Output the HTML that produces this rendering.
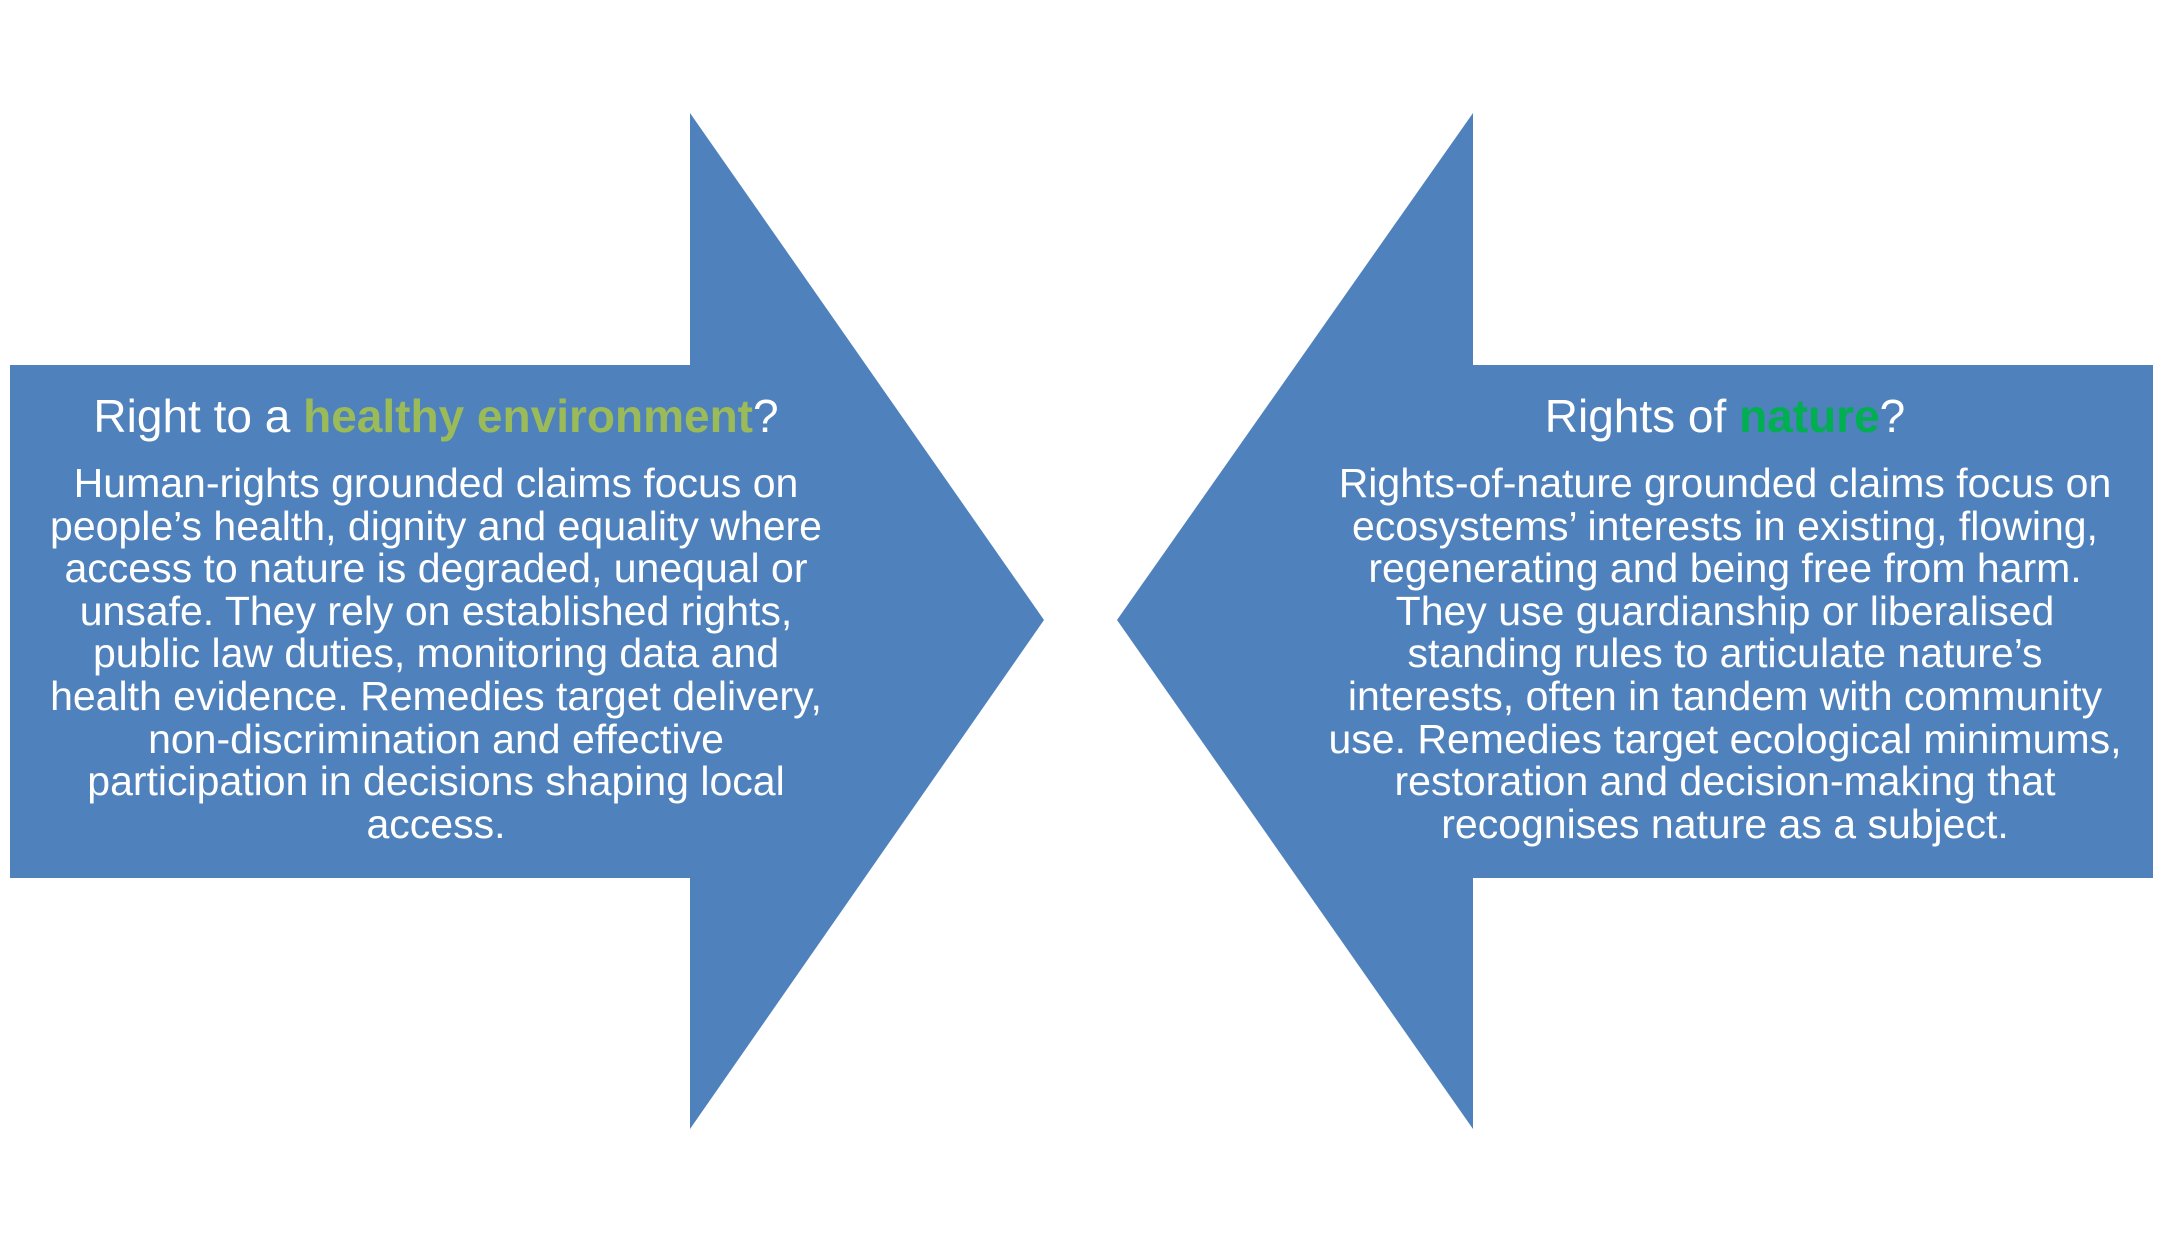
<!DOCTYPE html>
<html><head><meta charset="utf-8"><style>
html,body{margin:0;padding:0;background:#fff;}
body{width:2162px;height:1243px;position:relative;overflow:hidden;font-family:"Liberation Sans",Arial,sans-serif;}
.t{position:absolute;width:900px;text-align:center;color:#fff;white-space:nowrap;}
.h{font-size:46px;line-height:48px;}
.b{font-size:41px;line-height:42.6px;}
</style></head><body>
<svg width="2162" height="1243" style="position:absolute;left:0;top:0">
<polygon points="10,365 690,365 690,113 1044,620 690,1129 690,878 10,878" fill="#4f81bd"/>
<polygon points="2153,365 1473,365 1473,113 1117,620 1473,1129 1473,878 2153,878" fill="#4f81bd"/>
</svg>
<div class="t h" style="left:-14px;top:392px">Right to a <b style="color:#9bbb59">healthy environment</b>?</div>
<div class="t b" style="left:-14px;top:462px">Human-rights grounded claims focus on<br>people’s health, dignity and equality where<br>access to nature is degraded, unequal or<br>unsafe. They rely on established rights,<br>public law duties, monitoring data and<br>health evidence. Remedies target delivery,<br>non-discrimination and effective<br>participation in decisions shaping local<br>access.</div>
<div class="t h" style="left:1275px;top:392px">Rights of <b style="color:#00b050">nature</b>?</div>
<div class="t b" style="left:1275px;top:462px">Rights-of-nature grounded claims focus on<br>ecosystems’ interests in existing, flowing,<br>regenerating and being free from harm.<br>They use guardianship or liberalised<br>standing rules to articulate nature’s<br>interests, often in tandem with community<br>use. Remedies target ecological minimums,<br>restoration and decision-making that<br>recognises nature as a subject.</div>
</body></html>
